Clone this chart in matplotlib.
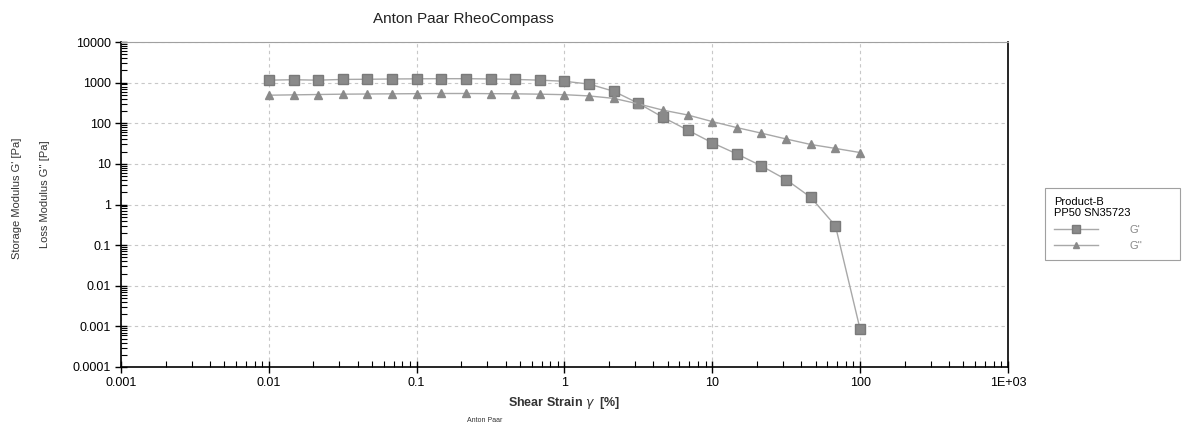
import matplotlib
matplotlib.use("Agg")
from matplotlib import pyplot as plt
from matplotlib import ticker

plt.rcParams["font.family"] = ["Liberation Sans", "DejaVu Sans"]

# shear strain [%], 6 points per decade
strain = [0.01, 0.0147, 0.0215, 0.0316, 0.0464, 0.0681,
          0.1, 0.147, 0.215, 0.316, 0.464, 0.681,
          1, 1.47, 2.15, 3.16, 4.64, 6.81,
          10, 14.7, 21.5, 31.6, 46.4, 68.1, 100]

g_storage = [1150, 1180, 1150, 1200, 1210, 1230,
             1240, 1250, 1250, 1230, 1200, 1150,
             1080, 920, 615, 310, 140, 68,
             33, 17.5, 8.9, 4.1, 1.5, 0.30, 0.00085]

g_loss = [490, 500, 510, 520, 525, 530,
          535, 540, 540, 535, 530, 520,
          505, 470, 410, 300, 210, 160,
          110, 78, 57, 41, 30, 24, 19]

y_ticks = [0.0001, 0.001, 0.01, 0.1, 1, 10, 100, 1000, 10000]
x_ticks = [0.001, 0.01, 0.1, 1, 10, 100, 1000]
x_tick_labels = ["0.001", "0.01", "0.1", "1", "10", "100", "1E+03"]

fig = plt.figure(figsize=(11.83, 4.26), dpi=100)
ax = fig.add_axes([0.1023, 0.1385, 0.7497, 0.7629])

line_col = "#a8a8a8"
mark_col = "#8a8a8a"
ax.plot(strain, g_storage, color=line_col, lw=1, marker="s", ms=7.5,
        mfc=mark_col, mec="#7a7a7a", label="G'")
ax.plot(strain, g_loss, color=line_col, lw=1, marker="^", ms=6,
        mfc=mark_col, mec=mark_col, label="G''")

ax.set_xscale("log")
ax.set_yscale("log")
ax.set_xlim(0.001, 1000)
ax.set_ylim(0.0001, 10000)

ax.set_xticks(x_ticks)
ax.set_xticklabels(x_tick_labels)
ax.set_yticks(y_ticks)
ax.yaxis.set_major_formatter(ticker.FuncFormatter(lambda v, p: "%g" % v))
ax.xaxis.set_minor_locator(ticker.LogLocator(base=10, subs=range(2, 10), numticks=20))
ax.yaxis.set_minor_locator(ticker.LogLocator(base=10, subs=range(2, 10), numticks=20))
ax.xaxis.set_minor_formatter(ticker.NullFormatter())
ax.yaxis.set_minor_formatter(ticker.NullFormatter())

ax.tick_params(which="major", direction="inout", length=8, width=1, labelsize=9)
ax.tick_params(which="minor", direction="in", length=4, width=0.8)
ax.tick_params(top=False, right=False)

ax.grid(which="major", color="#c8c8c8", ls=(0, (3, 3)), lw=0.8)
ax.spines["top"].set_color("#a0a0a0")
for s in ["left", "bottom", "right"]:
    ax.spines[s].set_linewidth(1.2)

ax.set_xlabel("Shear Strain $\\gamma$  [%]", fontsize=9, fontweight="bold",
              color="#333333", labelpad=4)
fig.text(0.0145, 0.535, "Storage Modulus G' [Pa]", rotation=90, fontsize=8,
         ha="center", va="center", color="#333333")
fig.text(0.038, 0.545, "Loss Modulus G'' [Pa]", rotation=90, fontsize=8,
         ha="center", va="center", color="#333333")
fig.text(0.392, 0.955, "Anton Paar RheoCompass", fontsize=11, ha="center",
         va="center", color="#222222")
fig.text(0.41, 0.013, "Anton Paar", fontsize=5, ha="center", va="center",
         color="#333333")

leg = ax.legend(loc="upper left", bbox_to_anchor=(0.8834, 0.385, 0.1141, 0.1737),
                bbox_transform=fig.transFigure, mode="expand", borderaxespad=0,
                fontsize=8, title="Product-B\nPP50 SN35723", title_fontsize=8,
                alignment="left", frameon=True, fancybox=False,
                edgecolor="#888888", handlelength=4, handletextpad=2.8,
                borderpad=0.8, labelspacing=0.55, markerscale=0.8,
                labelcolor="#888888")
leg.get_frame().set_linewidth(0.8)

fig.savefig("out.png", dpi=100)
